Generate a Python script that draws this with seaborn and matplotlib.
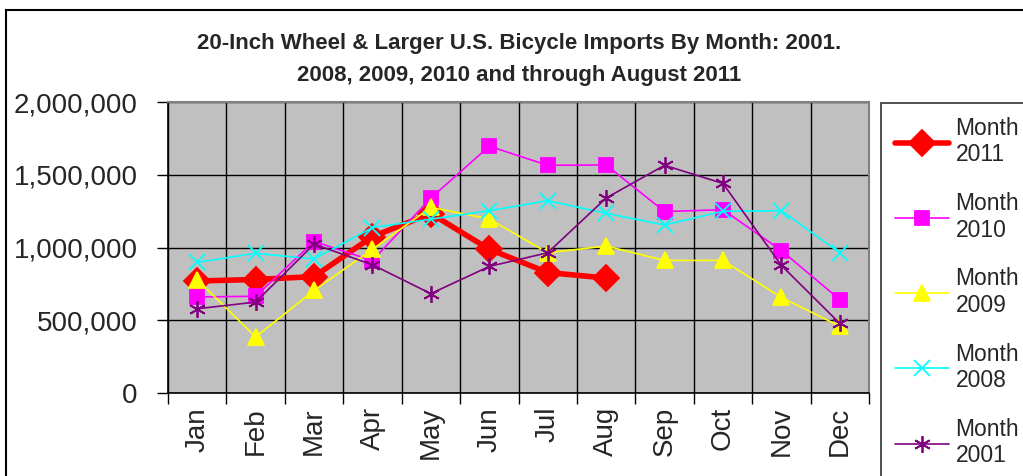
import numpy as np
import pandas as pd
import matplotlib.pyplot as plt
import seaborn as sns
from matplotlib.patches import Rectangle
from matplotlib.ticker import FuncFormatter

# data
months = ['Jan', 'Feb', 'Mar', 'Apr', 'May', 'Jun', 'Jul', 'Aug', 'Sep', 'Oct', 'Nov', 'Dec']
y2011 = [770000, 780000, 800000, 1075000, 1233000, 988000, 828000, 790000]
y2010 = [660000, 665000, 1041000, 910000, 1340000, 1696000, 1565000, 1567000, 1247000, 1260000, 979000, 642000]
y2009 = [780000, 385000, 705000, 988000, 1276000, 1196000, 964000, 1010000, 911000, 911000, 657000, 459000]
y2008 = [898000, 960000, 921000, 1137000, 1195000, 1253000, 1322000, 1235000, 1155000, 1249000, 1253000, 964000]
y2001 = [579000, 625000, 1023000, 881000, 683000, 870000, 964000, 1340000, 1565000, 1440000, 877000, 478000]
labels = ['Month\n2011', 'Month\n2010', 'Month\n2009', 'Month\n2008', 'Month\n2001']

sns.set_style('white')
plt.rcParams['font.family'] = ['Liberation Sans', 'DejaVu Sans']

fig = plt.figure(figsize=(10.23, 4.76), dpi=100)
ax = fig.add_axes([168/1023, 1 - 393/476, (869-168)/1023, (393-102)/476])
ax.set_facecolor('#c0c0c0')

series = [
    (y2011, labels[0], '#ff0000', 'D', 13, 4.0),
    (y2010, labels[1], '#ff00ff', 's', 10, 1.2),
    (y2009, labels[2], '#ffff00', '^', 11, 1.2),
    (y2008, labels[3], '#00ffff', 'x', 11, 1.2),
    (y2001, labels[4], '#800080', (6, 2, 0), 12, 1.2),
]
for vals, lab, col, mk, ms, lw in series:
    xs = np.arange(len(vals))
    sns.lineplot(x=xs, y=vals, ax=ax, color=col, marker=mk, markersize=ms,
                 linewidth=lw, label=lab, markeredgecolor=col, markeredgewidth=1.3)

ax.set_xlim(-0.5, 11.5)
ax.set_ylim(0, 2000000)
ax.set_xticks(np.arange(-0.5, 12, 1))
ax.set_xticklabels([])
ax.set_xticks(np.arange(12), minor=True)
ax.set_xticklabels(months, minor=True, rotation=90, fontsize=20)
ax.tick_params(axis='x', which='minor', length=0, pad=10)
ax.tick_params(axis='x', which='major', direction='out', length=8, width=1, color='black', bottom=True)
ax.set_yticks(np.arange(0, 2000001, 500000))
ax.yaxis.set_major_formatter(FuncFormatter(lambda v, p: f'{int(v):,}'))
ax.tick_params(axis='y', direction='out', length=8, width=1, color='black', labelsize=20, pad=14, left=True)
ax.grid(True, which='major', color='black', linewidth=1)
ax.set_axisbelow(True)
for s in ['top', 'right']:
    ax.spines[s].set_color('#808080')
    ax.spines[s].set_linewidth(1.5)
for s in ['left', 'bottom']:
    ax.spines[s].set_color('black')
    ax.spines[s].set_linewidth(1.2)
ax.set_xlabel('')
ax.set_ylabel('')

ax.legend(loc='upper left', bbox_to_anchor=(881/1023, 1 - 103/476), bbox_transform=fig.transFigure,
          fontsize=16.5, frameon=True, fancybox=False, edgecolor='black', handlelength=2.35,
          labelspacing=1.12, borderaxespad=0, borderpad=0.6, handletextpad=0.3)
ax.get_legend().get_frame().set_linewidth(1.2)

fig.text(0.507, 1 - 43/476, '20-Inch Wheel & Larger U.S. Bicycle Imports By Month: 2001.',
         ha='center', va='center', fontsize=16, fontweight='bold')
fig.text(0.507, 1 - 76/476, '2008, 2009, 2010 and through August 2011',
         ha='center', va='center', fontsize=16, fontweight='bold')

fig.patches.append(Rectangle((6/1023, -0.2), 1.2, 1 - 10/476 + 0.2, transform=fig.transFigure,
                             fill=False, edgecolor='black', linewidth=1.5))

fig.savefig('out.png', dpi=100)
